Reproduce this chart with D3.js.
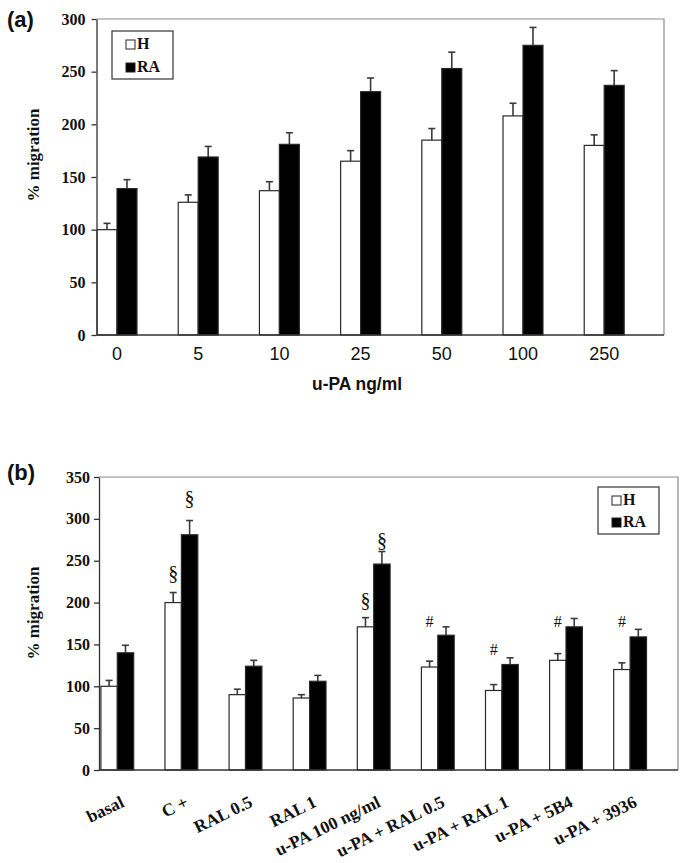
<!DOCTYPE html>
<html><head><meta charset="utf-8">
<script src="https://cdn.jsdelivr.net/npm/d3@7"></script>
<style>
html,body{margin:0;padding:0;background:#fff;}
svg{display:block;}
</style></head>
<body>
<svg id="chart" width="685" height="863"></svg>
<script>
// ---------- Panel (a) data ----------
const catsA = ["0", "5", "10", "25", "50", "100", "250"];
const hA = [100, 126, 137, 165, 185, 208, 180];
const hAerr = [6, 7, 8.5, 10, 11, 12, 10];
const raA = [139, 169, 181, 231, 253, 275, 237];
const raAerr = [8.5, 10, 11, 13, 15.5, 17, 14];
const ticksA = [0, 50, 100, 150, 200, 250, 300];

// ---------- Panel (b) data ----------
const catsB = ["basal", "C +", "RAL 0.5", "RAL 1", "u-PA 100 ng/ml", "u-PA + RAL 0.5", "u-PA + RAL 1", "u-PA + 5B4", "u-PA + 3936"];
const hB = [100, 200, 90, 86, 171, 123, 95, 131, 120];
const hBerr = [7, 12, 6.5, 4, 11, 7, 7, 8, 8];
const raB = [140, 281, 124, 106, 246, 161, 126, 171, 159];
const raBerr = [9, 17, 7, 7, 15, 10, 8, 10, 9];
const ticksB = [0, 50, 100, 150, 200, 250, 300, 350];
// significance marks: category, series, symbol, level (data units)
const marksB = [
  {cat: "C +", s: "H", sym: "§", v: 235},
  {cat: "C +", s: "RA", sym: "§", v: 325},
  {cat: "u-PA 100 ng/ml", s: "H", sym: "§", v: 203},
  {cat: "u-PA 100 ng/ml", s: "RA", sym: "§", v: 275},
  {cat: "u-PA + RAL 0.5", s: "H", sym: "#", v: 177},
  {cat: "u-PA + RAL 1", s: "H", sym: "#", v: 144},
  {cat: "u-PA + 5B4", s: "H", sym: "#", v: 177},
  {cat: "u-PA + 3936", s: "H", sym: "#", v: 177}
];
const seriesNames = ["H", "RA"];

const svg = d3.select("#chart");
const SERIF = "'Liberation Serif','Times New Roman',serif";
const SANS = "'Liberation Sans',Arial,sans-serif";

function panel(cfg) {
  const g = svg.append("g");
  const {frame, cats, h, hErr, ra, raErr, ticks, yMax, barFrac, bandRange} = cfg;
  const y = d3.scaleLinear().domain([0, yMax]).range([frame.bottom, frame.top]);
  const x = d3.scaleBand().domain(cats).range(bandRange).padding(0);
  const bw = x.bandwidth() * barFrac;
  const cx = c => x(c) + x.bandwidth() / 2;

  // frame top/right (gray)
  g.append("path")
    .attr("d", `M${frame.left},${frame.top}H${frame.right}V${frame.bottom}`)
    .attr("fill", "none").attr("stroke", "#8a8a8a").attr("stroke-width", 1.2);

  const data = [];
  cats.forEach((c, i) => {
    data.push({c, s: "H", v: h[i], e: hErr[i], x0: cx(c) - bw});
    data.push({c, s: "RA", v: ra[i], e: raErr[i], x0: cx(c)});
  });

  // error bars
  const eg = g.append("g").attr("stroke", "#3a3a3a").attr("stroke-width", 1.6);
  data.forEach(d => {
    const xm = d.x0 + bw / 2;
    eg.append("line").attr("x1", xm).attr("x2", xm).attr("y1", y(d.v)).attr("y2", y(d.v + d.e));
    eg.append("line").attr("x1", xm - 3.5).attr("x2", xm + 3.5).attr("y1", y(d.v + d.e)).attr("y2", y(d.v + d.e));
  });

  // bars
  g.append("g").selectAll("rect").data(data).join("rect")
    .attr("x", d => d.x0).attr("width", bw)
    .attr("y", d => y(d.v)).attr("height", d => y(0) - y(d.v))
    .attr("fill", d => d.s === "H" ? "#fff" : "#000")
    .attr("stroke", "#2a2a2a").attr("stroke-width", 1.2);

  // y axis
  const ya = g.append("g").attr("transform", `translate(${frame.left},0)`)
    .call(d3.axisLeft(y).tickValues(ticks).tickSize(5).tickPadding(cfg.tickPad).tickSizeOuter(0));
  ya.select(".domain").attr("stroke", "#333").attr("stroke-width", 1.3);
  ya.selectAll(".tick line").attr("stroke", "#333").attr("stroke-width", 1.3);
  ya.selectAll(".tick text").attr("font-family", SERIF).attr("font-weight", "bold")
    .attr("font-size", 16).attr("fill", "#111");

  // x baseline
  g.append("line").attr("x1", frame.left).attr("x2", frame.right)
    .attr("y1", frame.bottom).attr("y2", frame.bottom)
    .attr("stroke", "#333").attr("stroke-width", 1.3);

  // legend
  const L = cfg.legend;
  g.append("rect").attr("x", L.x).attr("y", L.y).attr("width", L.w).attr("height", L.h)
    .attr("fill", "#fff").attr("stroke", "#333").attr("stroke-width", 1.2);
  seriesNames.forEach((s, i) => {
    const yy = L.y + L.row0 + i * L.dy;
    g.append("rect").attr("x", L.x + L.mx).attr("y", yy - 9).attr("width", 9).attr("height", 9)
      .attr("fill", s === "H" ? "#fff" : "#000").attr("stroke", "#222").attr("stroke-width", 1);
    g.append("text").attr("x", L.x + L.mx + 11).attr("y", yy)
      .attr("font-family", SERIF).attr("font-weight", "bold").attr("font-size", 16)
      .attr("fill", "#111").text(s);
  });

  // y title
  g.append("text").attr("transform", `translate(${cfg.yTitle.x},${cfg.yTitle.y}) rotate(-90)`)
    .attr("text-anchor", "middle").attr("font-family", SERIF).attr("font-weight", "bold")
    .attr("font-size", 17).attr("fill", "#111").text("% migration");

  // panel letter
  g.append("text").attr("x", 7).attr("y", cfg.letterY).attr("font-family", SANS)
    .attr("font-weight", "bold").attr("font-size", 22).attr("fill", "#111").text(cfg.letter);

  return {g, x, y, cx, bw};
}

// ---------- Panel (a) ----------
const A = panel({
  frame: {left: 96.5, right: 664, top: 19, bottom: 335},
  cats: catsA, h: hA, hErr: hAerr, ra: raA, raErr: raAerr, ticks: ticksA, yMax: 300,
  barFrac: 0.246, bandRange: [76.4, 644.8], tickPad: 6,
  legend: {x: 112, y: 31, w: 61, h: 48, mx: 14, row0: 18, dy: 23},
  yTitle: {x: 39, y: 155}, letter: "(a)", letterY: 27
});
A.g.append("g").selectAll("text").data(catsA).join("text")
  .attr("x", d => A.cx(d)).attr("y", 360).attr("text-anchor", "middle")
  .attr("font-family", SANS).attr("font-size", 18).attr("fill", "#111").text(d => d);
A.g.append("text").attr("x", 357).attr("y", 390).attr("text-anchor", "middle")
  .attr("font-family", SANS).attr("font-weight", "bold").attr("font-size", 18)
  .attr("textLength", 90).attr("lengthAdjust", "spacingAndGlyphs")
  .attr("fill", "#111").text("u-PA ng/ml");

// ---------- Panel (b) ----------
const B = panel({
  frame: {left: 99, right: 678, top: 477, bottom: 770},
  cats: catsB, h: hB, hErr: hBerr, ra: raB, raErr: raBerr, ticks: ticksB, yMax: 350,
  barFrac: 0.256, bandRange: [85.25, 662.15], tickPad: 4,
  legend: {x: 598, y: 487, w: 61, h: 47, mx: 14, row0: 18, dy: 22},
  yTitle: {x: 39, y: 613}, letter: "(b)", letterY: 480
});
B.g.append("g").selectAll("text").data(catsB).join("text")
  .attr("transform", d => `translate(${B.cx(d) + 8},806) rotate(-26)`)
  .attr("text-anchor", "end").attr("font-family", SERIF).attr("font-weight", "bold")
  .attr("font-size", 17.5).attr("fill", "#111").text(d => d);
B.g.append("g").selectAll("text").data(marksB).join("text")
  .attr("x", d => B.cx(d.cat) + (d.s === "H" ? -B.bw / 2 : B.bw / 2))
  .attr("y", d => B.y(d.v)).attr("dy", "0.35em").attr("text-anchor", "middle")
  .attr("font-family", SERIF).attr("font-size", d => d.sym === "§" ? 20 : 16)
  .attr("fill", "#111").text(d => d.sym);
</script>
</body></html>
